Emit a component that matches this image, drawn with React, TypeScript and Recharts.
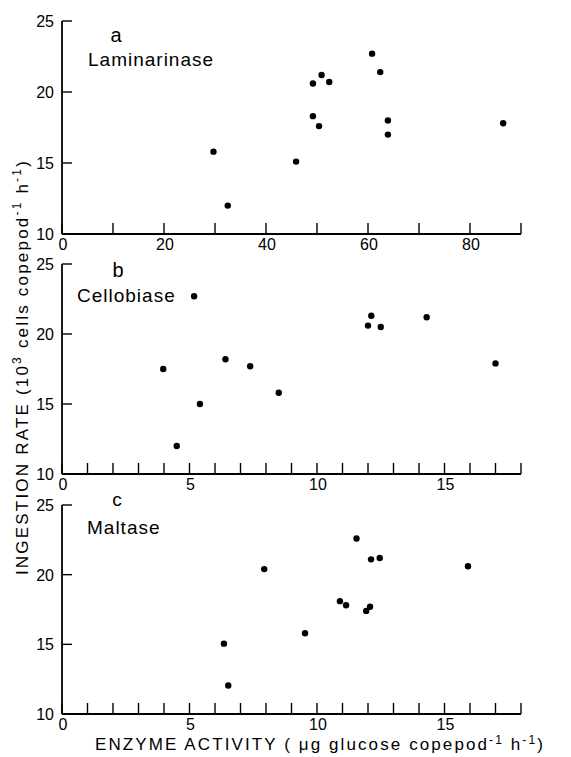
import React from 'react';
import { ScatterChart, Scatter, XAxis, YAxis } from 'recharts';

const lamX = [29.7, 32.5, 45.9, 49.2, 50.9, 52.4, 49.2, 50.4, 60.8, 62.4, 63.9, 63.9, 86.5];
const lamY = [15.8, 12.0, 15.1, 20.6, 21.2, 20.7, 18.3, 17.6, 22.7, 21.4, 18.0, 17.0, 17.8];
const celX = [3.97, 4.5, 5.18, 5.41, 6.41, 7.38, 8.5, 12.0, 12.13, 12.5, 14.3, 17.0];
const celY = [17.5, 12.0, 22.7, 15.0, 18.2, 17.7, 15.8, 20.6, 21.3, 20.5, 21.2, 17.9];
const malX = [6.35, 6.52, 7.93, 9.53, 10.9, 11.14, 11.55, 11.93, 12.08, 12.12, 12.46, 15.92];
const malY = [15.05, 12.05, 20.4, 15.8, 18.1, 17.8, 22.6, 17.4, 17.7, 21.1, 21.2, 20.6];

const yTicks = [10, 15, 20, 25];
const lamTicks = [0, 10, 20, 30, 40, 50, 60, 70, 80, 90];
const lamLabels = [0, 20, 40, 60, 80];
const smallTicks = [0, 1, 2, 3, 4, 5, 6, 7, 8, 9, 10, 11, 12, 13, 14, 15, 16, 17, 18];
const smallLabels = [0, 5, 10, 15];

const FONT = '"Liberation Sans", Arial, sans-serif';

const toData = (xs: number[], ys: number[]) => xs.map((x, i) => ({ x, y: ys[i] }));

const Dot = (props: any) => {
  const { cx, cy } = props;
  if (cx == null || cy == null) return null;
  return <circle cx={cx} cy={cy} r={3.2} fill="#000" />;
};

const makeXTick = (labels: number[]) => (props: any) => {
  const { x, y, payload } = props;
  const v = payload.value;
  return (
    <g>
      <line x1={x} x2={x} y1={y} y2={y - 11} stroke="#000" strokeWidth={1.4} />
      {labels.includes(v) && (
        <text x={x + 1} y={y + 16} textAnchor="middle" fontSize={16} fontFamily={FONT} fill="#000">
          {v}
        </text>
      )}
    </g>
  );
};

const YTick = (props: any) => {
  const { x, y, payload } = props;
  return (
    <g>
      <line x1={x} x2={x + 10} y1={y} y2={y} stroke="#000" strokeWidth={1.4} />
      <text x={x - 8} y={y + 6} textAnchor="end" fontSize={16} fontFamily={FONT} fill="#000">
        {payload.value}
      </text>
    </g>
  );
};

type PanelProps = {
  data: { x: number; y: number }[];
  top: number;
  height: number;
  marginTop: number;
  xDomain: [number, number];
  xTicks: number[];
  xLabels: number[];
};

function Panel({ data, top, height, marginTop, xDomain, xTicks, xLabels }: PanelProps) {
  return (
    <div style={{ position: 'absolute', left: 0, top, width: 571, height }}>
      <ScatterChart width={571} height={height} margin={{ top: marginTop, right: 50, bottom: 0, left: 0 }}>
        <XAxis
          type="number"
          dataKey="x"
          domain={xDomain}
          ticks={xTicks}
          interval={0}
          height={28}
          tickSize={0}
          tickMargin={0}
          tickLine={false}
          axisLine={{ stroke: '#000', strokeWidth: 1.8 }}
          tick={makeXTick(xLabels)}
          allowDataOverflow
        />
        <YAxis
          type="number"
          dataKey="y"
          domain={[10, 25]}
          ticks={yTicks}
          interval={0}
          width={62}
          tickSize={0}
          tickMargin={0}
          tickLine={false}
          axisLine={{ stroke: '#000', strokeWidth: 1.8 }}
          tick={YTick}
          allowDataOverflow
        />
        <Scatter data={data} fill="#000" shape={Dot} isAnimationActive={false} />
      </ScatterChart>
    </div>
  );
}

export default function App() {
  return (
    <div style={{ position: 'absolute', left: 0, top: 0, width: 571, height: 757, background: '#fff', overflow: 'hidden' }}>
      <Panel data={toData(lamX, lamY)} top={0} height={262} marginTop={21} xDomain={[0, 90]} xTicks={lamTicks} xLabels={lamLabels} />
      <Panel data={toData(celX, celY)} top={250} height={252} marginTop={14} xDomain={[0, 18]} xTicks={smallTicks} xLabels={smallLabels} />
      <Panel data={toData(malX, malY)} top={492} height={250} marginTop={13} xDomain={[0, 18]} xTicks={smallTicks} xLabels={smallLabels} />
      <svg width={571} height={757} style={{ position: 'absolute', left: 0, top: 0, pointerEvents: 'none' }}>
        <g fontFamily={FONT} fill="#000">
          <text x={116} y={42} textAnchor="middle" fontSize={20}>a</text>
          <text x={88} y={66} fontSize={19} letterSpacing={1}>Laminarinase</text>
          <text x={118} y={277} textAnchor="middle" fontSize={20}>b</text>
          <text x={77} y={302} fontSize={19} letterSpacing={1}>Cellobiase</text>
          <text x={117} y={506} textAnchor="middle" fontSize={19}>c</text>
          <text x={87} y={534} fontSize={19} letterSpacing={1}>Maltase</text>
          <text x={28} y={367} textAnchor="middle" fontSize={17} letterSpacing={2.2} transform="rotate(-90 28 367)">
            INGESTION RATE (10<tspan dy={-7} fontSize={12}>3</tspan>
            <tspan dy={7}> cells copepod</tspan>
            <tspan dy={-7} fontSize={12}>-1</tspan>
            <tspan dy={7}> h</tspan>
            <tspan dy={-7} fontSize={12}>-1</tspan>
            <tspan dy={7}>)</tspan>
          </text>
          <text x={320} y={750} textAnchor="middle" fontSize={17} letterSpacing={2.1}>
            ENZYME ACTIVITY ( μg glucose copepod<tspan dy={-6} fontSize={12}>-1</tspan>
            <tspan dy={6}> h</tspan>
            <tspan dy={-6} fontSize={12}>-1</tspan>
            <tspan dy={6}>)</tspan>
          </text>
        </g>
      </svg>
    </div>
  );
}
